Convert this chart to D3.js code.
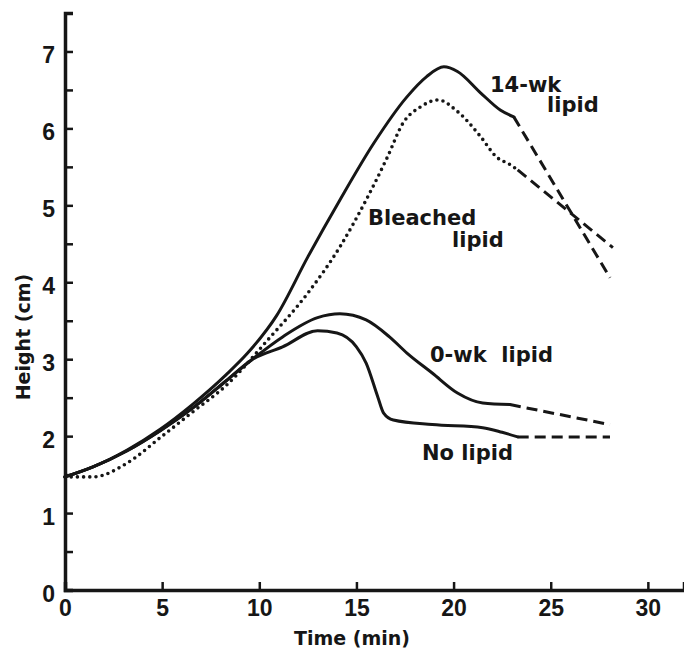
<!DOCTYPE html>
<html>
<head>
<meta charset="utf-8">
<script src="https://cdn.jsdelivr.net/npm/d3@7"></script>
<style>
  html, body { margin: 0; padding: 0; background: #fff; }
  svg { display: block; }
</style>
</head>
<body>
<svg id="chart"></svg>
<script>
// --- data (time in min, height in cm) ---
const xTicks = [0, 5, 10, 15, 20, 25, 30];
const yTicks = [0, 1, 2, 3, 4, 5, 6, 7];

const wk14Time   = [0, 1.44, 3.2, 4.9, 6.6, 8.3, 9.4, 10.9, 12.5, 14.15, 15.9, 17.6, 18.6, 19.5, 20.2, 21.4, 22.4, 23.1];
const wk14Height = [1.47, 1.6, 1.82, 2.09, 2.42, 2.8, 3.08, 3.57, 4.33, 5.07, 5.81, 6.41, 6.67, 6.8, 6.74, 6.46, 6.24, 6.15];

const bleachTime   = [0, 1.44, 3.2, 4.9, 6.6, 8.3, 10.4, 12.5, 14.15, 15.5, 16.6, 17.4, 18.3, 19.2, 20.2, 21.4, 22.2, 22.9, 23.3];
const bleachHeight = [1.47, 1.47, 1.65, 1.98, 2.32, 2.66, 3.24, 3.86, 4.46, 5.07, 5.63, 6.07, 6.28, 6.37, 6.22, 5.89, 5.63, 5.53, 5.46];

const wk0Time   = [0, 1.44, 3.2, 4.9, 6.6, 8.3, 9.6, 11.2, 13.0, 14.15, 15.5, 16.7, 17.6, 18.9, 20.2, 21.5, 22.9];
const wk0Height = [1.47, 1.6, 1.81, 2.07, 2.37, 2.72, 2.99, 3.29, 3.54, 3.59, 3.51, 3.29, 3.08, 2.82, 2.56, 2.43, 2.41];

const noLipTime   = [0, 1.44, 3.2, 4.9, 6.6, 8.3, 9.6, 11.2, 13.0, 14.0, 15.0, 15.5, 16.1, 16.4, 16.9, 18.9, 21.5, 22.5, 23.3];
const noLipHeight = [1.47, 1.6, 1.81, 2.07, 2.37, 2.72, 2.99, 3.16, 3.37, 3.34, 3.16, 2.95, 2.51, 2.3, 2.21, 2.15, 2.11, 2.05, 1.99];

// extrapolated (dashed) tails: [time, height]
const wk14Tail   = [[23.1, 6.15], [28.05, 4.06]];
const bleachTail = [[23.3, 5.46], [28.2, 4.45]];
const wk0Tail    = [[22.9, 2.41], [28.05, 2.15]];
const noLipTail  = [[23.3, 1.99], [28.05, 1.99]];

const labelLines = [
  ['14-wk', 'lipid'],
  ['Bleached', 'lipid'],
  ['0-wk  lipid'],
  ['No lipid']
];

// --- layout ---
const W = 684, H = 653;
const X0 = 65, Y0 = 590;
const INK = '#161616';

const svg = d3.select('#chart').attr('width', W).attr('height', H);

const x = d3.scaleLinear().domain([0, 31.86]).range([X0, 684]);
const y = d3.scaleLinear().domain([0, 7.5]).range([Y0, 13]);

const zip = (ts, hs) => ts.map((t, i) => [t, hs[i]]);

// axes
const yMinor = d3.axisLeft(y).tickValues(d3.range(0.5, 7.5, 1)).tickSize(-8).tickFormat('');
const yAxis  = d3.axisLeft(y).tickValues(yTicks).tickSize(-8).tickPadding(10);
const xAxis  = d3.axisBottom(x).tickValues(xTicks).tickSize(-8).tickPadding(10);

function styleAxis(g) {
  g.select('.domain').attr('stroke', INK).attr('stroke-width', 3.5);
  g.selectAll('.tick line').attr('stroke', INK).attr('stroke-width', 2.5);
  g.selectAll('.tick text')
    .attr('fill', INK)
    .style('font-family', '"Liberation Sans", Arial, sans-serif')
    .style('font-weight', 'bold')
    .style('font-size', '23px');
}

svg.append('g').attr('transform', `translate(${X0},0)`).call(yMinor).call(styleAxis)
  .select('.domain').remove();
svg.append('g').attr('transform', `translate(${X0},0)`).call(yAxis).call(styleAxis)
  .selectAll('.tick text').attr('dy', '0.5em');
svg.append('g').attr('transform', `translate(0,${Y0})`).call(xAxis).call(styleAxis);

// axis titles
const titleFont = 'DejaVu Sans, sans-serif';
svg.append('text')
  .attr('x', 352).attr('y', 645)
  .attr('text-anchor', 'middle')
  .style('font-family', titleFont).style('font-weight', 'bold').style('font-size', '19px')
  .attr('fill', INK)
  .text('Time (min)');
svg.append('text')
  .attr('transform', 'translate(30,337) rotate(-90)')
  .attr('text-anchor', 'middle')
  .style('font-family', titleFont).style('font-weight', 'bold').style('font-size', '19px')
  .attr('fill', INK)
  .text('Height (cm)');

// curves
const smooth = d3.line().x(d => x(d[0])).y(d => y(d[1])).curve(d3.curveMonotoneX);
const straight = d3.line().x(d => x(d[0])).y(d => y(d[1]));

const plot = svg.append('g').attr('fill', 'none').attr('stroke', INK);

plot.append('path').datum(zip(bleachTime, bleachHeight)).attr('d', smooth)
  .attr('stroke-width', 3.6).attr('stroke-linecap', 'round').attr('stroke-dasharray', '0,6.2');

[zip(wk14Time, wk14Height), zip(wk0Time, wk0Height), zip(noLipTime, noLipHeight)].forEach(s => {
  plot.append('path').datum(s).attr('d', smooth)
    .attr('stroke-width', 3).attr('stroke-linejoin', 'round').attr('stroke-linecap', 'round');
});

[wk14Tail, bleachTail, wk0Tail, noLipTail].forEach(s => {
  plot.append('path').datum(s).attr('d', straight)
    .attr('stroke-width', 3).attr('stroke-dasharray', '11,6');
});

// curve labels
const labelPos = [
  [[490, 92], [547, 112]],
  [[368, 225], [452, 247]],
  [[430, 362]],
  [[422, 460]]
];
labelLines.forEach((lines, i) => {
  lines.forEach((txt, j) => {
    svg.append('text')
      .attr('x', labelPos[i][j][0]).attr('y', labelPos[i][j][1])
      .style('font-family', titleFont).style('font-weight', 'bold').style('font-size', '21px')
      .style('white-space', 'pre')
      .attr('fill', INK)
      .text(txt);
  });
});
</script>
</body>
</html>
